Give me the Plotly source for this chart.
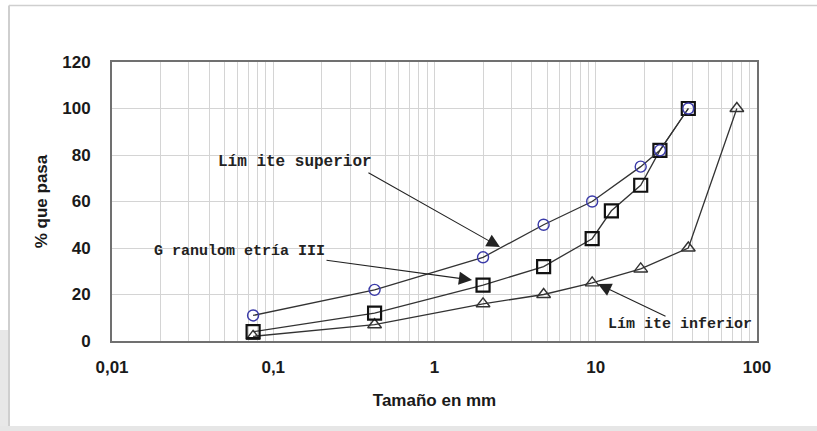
import plotly.graph_objects as go
import math

# Data
sup_x = [0.075, 0.425, 2, 4.75, 9.5, 19, 25, 37.5]
sup_y = [11, 22, 36, 50, 60, 75, 82, 100]
gran_x = [0.075, 0.425, 2, 4.75, 9.5, 12.5, 19, 25, 37.5]
gran_y = [4, 12, 24, 32, 44, 56, 67, 82, 100]
inf_x = [0.075, 0.425, 2, 4.75, 9.5, 19, 37.5, 75]
inf_y = [2, 7, 16, 20, 25, 31, 40, 100]

x_major = [0.01, 0.1, 1, 10, 100]
x_major_text = ["0,01", "0,1", "1", "10", "100"]
y_ticks = [0, 20, 40, 60, 80, 100, 120]

W, H = 817, 431
L, R, T, B = 112, 60, 62, 90

line_col = "#333333"

fig = go.Figure()
fig.add_trace(go.Scatter(x=inf_x, y=inf_y, mode="lines+markers",
                         line=dict(color=line_col, width=1.3),
                         marker=dict(symbol="triangle-up-open", size=12, color="#333333",
                                     line=dict(width=1.4, color="#333333")),
                         showlegend=False))
fig.add_trace(go.Scatter(x=gran_x, y=gran_y, mode="lines+markers",
                         line=dict(color=line_col, width=1.3),
                         marker=dict(symbol="square-open", size=13, color="#111111",
                                     line=dict(width=2.2, color="#111111")),
                         showlegend=False))
fig.add_trace(go.Scatter(x=sup_x, y=sup_y, mode="lines+markers",
                         line=dict(color=line_col, width=1.3),
                         marker=dict(symbol="circle-open", size=11, color="#3a3aa8",
                                     line=dict(width=1.4, color="#3a3aa8")),
                         showlegend=False))

# grid tick values (all 1..9 multiples per decade)
tickvals, ticktext = [], []
for e in range(-2, 3):
    for k in range(1, 10):
        v = k * 10 ** e
        if v > 100:
            break
        tickvals.append(v)
        if k == 1:
            ticktext.append(x_major_text[x_major.index(v)] if v in x_major else "")
        else:
            ticktext.append("")

tick_font = dict(family="Liberation Sans, Arial", size=17, color="#1a1a1a", weight="bold")

fig.update_xaxes(type="log", range=[-2, 2], tickvals=tickvals, ticktext=ticktext,
                 showgrid=True, gridcolor="#d4d4d4", gridwidth=1,
                 showline=True, linecolor="#707070", linewidth=2, mirror=True,
                 ticks="", tickfont=tick_font, ticklabelstandoff=10,
                 zeroline=False,
                 title=dict(text="Tamaño en mm", standoff=18,
                            font=dict(family="Liberation Sans, Arial", size=17,
                                      color="#1a1a1a", weight="bold")))
fig.update_yaxes(range=[0, 120], tickvals=y_ticks,
                 showgrid=True, gridcolor="#d4d4d4", gridwidth=1,
                 showline=True, linecolor="#707070", linewidth=2, mirror=True,
                 ticks="", tickfont=tick_font, ticklabelstandoff=16,
                 zeroline=False,
                 title=dict(text="% que pasa", standoff=10,
                            font=dict(family="Liberation Sans, Arial", size=17,
                                      color="#1a1a1a", weight="bold")))

ann_font = dict(family="Liberation Mono, Courier New", size=15, color="#222222", weight="bold")

# text labels (positions: log10 of x for log axes)
labels = [
    ("Lím ite superior", -0.865, 77, 16),
    ("G ranulom etría III", -1.212, 38.7, 15),
    ("Lím ite inferior", 1.522, 6.9, 15),
]
for txt, lx, ly, fs in labels:
    f = dict(ann_font)
    f["size"] = fs
    fig.add_annotation(x=lx, y=ly, xref="x", yref="y", text=txt, showarrow=False,
                       font=f)

# arrows: (tip_x, tip_y, tail_x, tail_y) in log10 x / y data units
arrows = [
    (0.406, 40.4, -0.419, 72.7),
    (0.233, 26.2, -0.679, 34.8),
    (1.014, 24.5, 1.442, 10.3),
]
for tx, ty, sx, sy in arrows:
    fig.add_annotation(x=tx, y=ty, ax=sx, ay=sy, xref="x", yref="y", axref="x", ayref="y",
                       text="", showarrow=True, arrowhead=2, arrowsize=2.4,
                       arrowwidth=1.1, arrowcolor="#222222", standoff=0)

# outer frame like the reference picture
pw, ph = W - L - R, H - T - B
def px(xp):
    return (xp - L) / pw
def py(yp):
    return (H - B - yp) / ph

fig.add_shape(type="rect", xref="paper", yref="paper",
              x0=px(-5), x1=px(W + 5), y0=py(H + 5), y1=py(426),
              fillcolor="#e6e6e6", line=dict(width=0), layer="below")
fig.add_shape(type="line", xref="paper", yref="paper",
              x0=px(9), x1=px(W + 5), y0=py(5.5), y1=py(5.5),
              line=dict(color="#cfcfcf", width=1.5), layer="below")
fig.add_shape(type="line", xref="paper", yref="paper",
              x0=px(9), x1=px(9), y0=py(5.5), y1=py(426),
              line=dict(color="#cfcfcf", width=2), layer="below")
fig.add_shape(type="rect", xref="paper", yref="paper",
              x0=px(0), x1=px(8), y0=py(330), y1=py(426),
              fillcolor="#e8e8e8", line=dict(width=0), layer="below")

fig.update_layout(width=W, height=H, margin=dict(l=L, r=R, t=T, b=B),
                  plot_bgcolor="white", paper_bgcolor="white")

fig.write_html("out.html")
